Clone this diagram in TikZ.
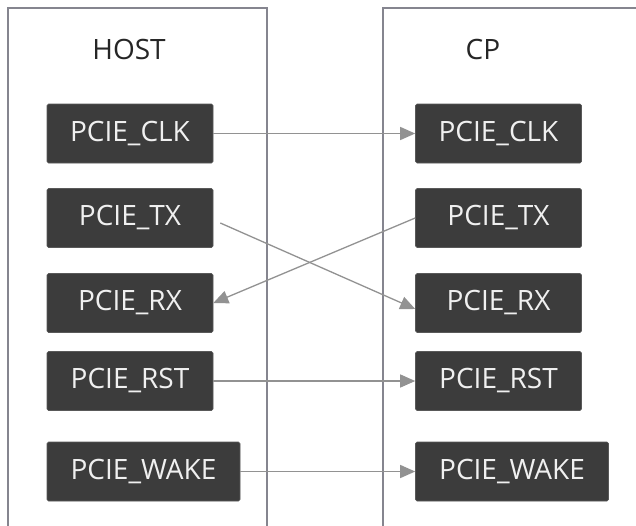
\documentclass[tikz,border=0pt]{standalone}
\usepackage{fontspec}
\setmainfont{Open Sans}
\usetikzlibrary{arrows.meta}
\definecolor{boxfill}{HTML}{3C3C3C}
\definecolor{frameline}{HTML}{85858F}
\definecolor{arrowline}{HTML}{929292}
\tikzset{
  sig/.style={draw=boxfill!85!white, line width=0.6pt, fill=boxfill, rounded corners=1.5pt,
    text=white!94!black, font=\fontsize{28}{32}\selectfont, inner sep=0pt,
    minimum height=59pt, anchor=center},
  sigw/.style={sig, minimum width=166pt},
  sigwide/.style={sig, minimum width=193pt},
  title/.style={font=\fontsize{28}{32}\selectfont, text=black!85, inner sep=0pt},
  frame/.style={draw=frameline, line width=1.5pt},
  link/.style={draw=arrowline, line width=1.3pt, -{Triangle[length=15pt,width=13pt]}}
}
\begin{document}
\begin{tikzpicture}[x=1pt,y=-1pt]
\useasboundingbox (0,0) rectangle (636,525);
\fill[white] (0,0) rectangle (636,525);
% frames
\draw[frame] (8,530) -- (8,8) -- (267,8) -- (267,530);
\draw[frame] (383,530) -- (383,8) -- (640,8);
% titles
\node[title] (host) at (129,49) {HOST};
\node[title] (cp) at (483,49) {CP};
% host signals
\node[sigw] (hclk) at (130,133.5) {PCIE\_CLK};
\node[sigw] (htx) at (130,218) {PCIE\_TX};
\node[sigw] (hrx) at (130,303) {PCIE\_RX};
\node[sigw] (hrst) at (130,381) {PCIE\_RST};
\node[sigwide] (hwake) at (143.5,471.5) {PCIE\_WAKE};
% cp signals
\node[sigw] (cclk) at (498.5,133.5) {PCIE\_CLK};
\node[sigw] (ctx) at (498.5,218) {PCIE\_TX};
\node[sigw] (crx) at (498.5,303) {PCIE\_RX};
\node[sigw] (crst) at (498.5,381) {PCIE\_RST};
\node[sigwide] (cwake) at (512,471.5) {PCIE\_WAKE};
% links
\draw[link] (hclk.east) -- (cclk.west);
\draw[link] ([xshift=7pt,yshift=-5pt]htx.east) -- ([yshift=-6pt]crx.west);
\draw[link] (ctx.west) -- (hrx.east);
\draw[link] (hrst.east) -- (crst.west);
\draw[link] (hwake.east) -- (cwake.west);
\end{tikzpicture}
\end{document}
